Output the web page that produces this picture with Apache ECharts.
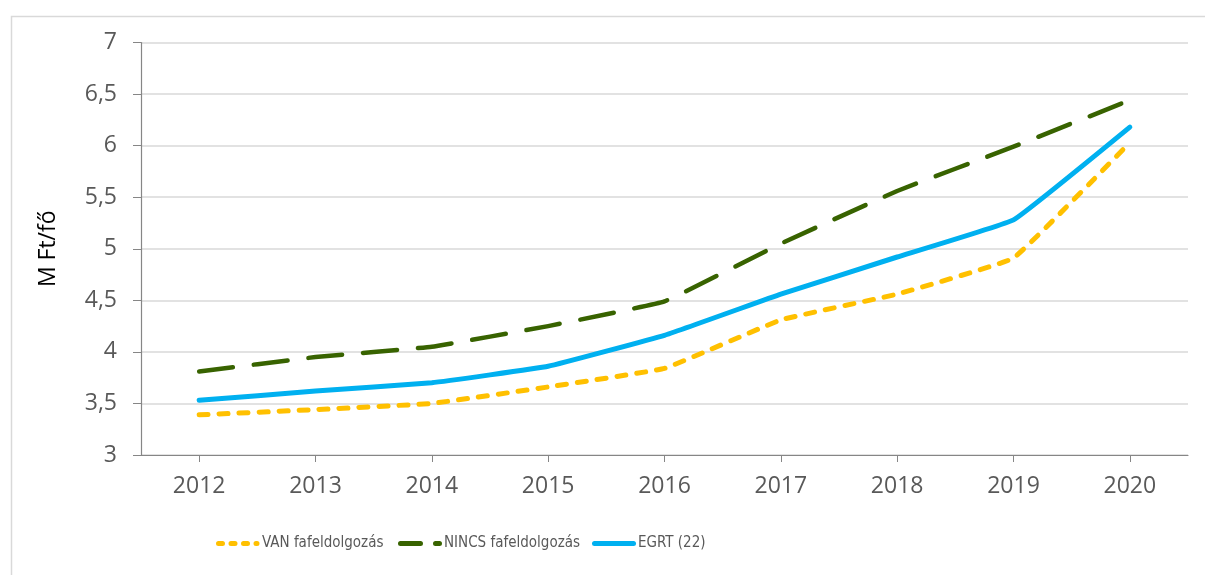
<!DOCTYPE html>
<html>
<head>
<meta charset="utf-8">
<script src="https://cdn.jsdelivr.net/npm/echarts@6/dist/echarts.min.js"></script>
<style>
  html, body { margin: 0; padding: 0; background: #fff; }
  #chart { width: 1205px; height: 575px; }
</style>
</head>
<body>
<div id="chart"></div>
<script>
// Years on the category axis
const years = ['2012', '2013', '2014', '2015', '2016', '2017', '2018', '2019', '2020'];

// Average value per person, million Ft
const vanFafeldolgozas = [3.39, 3.44, 3.50, 3.66, 3.84, 4.31, 4.56, 4.91, 6.03];
const nincsFafeldolgozas = [3.81, 3.95, 4.05, 4.25, 4.49, 5.05, 5.56, 5.99, 6.44];
const egrt = [3.53, 3.62, 3.70, 3.86, 4.16, 4.56, 4.92, 5.28, 6.18];

const seriesNames = ['VAN fafeldolgozás', 'NINCS fafeldolgozás', 'EGRT (22)'];

const FONT = '"Open Sans", "Liberation Sans", sans-serif';
const LEGEND_FONT = '"DejaVu Sans Condensed", "Open Sans", sans-serif';

// Legend swatch: a row of rounded dashes inside a 44 x 5 box
function dashIcon(segments) {
  const r = 2.5;
  const parts = segments.map(([a, b]) =>
    `M${a + r},0 H${b - r} A${r},${r} 0 0 1 ${b - r},5 H${a + r} A${r},${r} 0 0 1 ${a + r},0 Z`
  );
  return 'path://M0,0 M44,5 ' + parts.join(' ');
}

const legendIcons = [
  dashIcon([[0, 9], [12.5, 21.5], [25, 34], [37.5, 43.5]]),
  dashIcon([[0, 25], [35, 44]]),
  dashIcon([[0, 44]])
];
const legendLeft = [216, 398, 592];

function legendFor(i) {
  return {
    top: 536,
    left: legendLeft[i],
    padding: 0,
    itemWidth: 44,
    itemHeight: 5,
    itemGap: 0,
    itemStyle: { borderWidth: 0 },
    textStyle: { fontFamily: LEGEND_FONT, fontSize: 15, color: '#595959', padding: [0, 0, 0, -3] },
    data: [{ name: seriesNames[i], icon: legendIcons[i] }]
  };
}

const chart = echarts.init(document.getElementById('chart'), null, { renderer: 'canvas' });

chart.setOption({
  backgroundColor: '#ffffff',
  animation: false,
  graphic: [{
    type: 'rect',
    left: 9, top: 14,
    shape: { width: 1240, height: 620 },
    style: { fill: 'none', stroke: '#d9d9d9', lineWidth: 1.5 },
    silent: true
  }],
  grid: { left: 141, right: 17, top: 42.5, bottom: 120, containLabel: false },
  legend: [legendFor(0), legendFor(1), legendFor(2)],
  xAxis: {
    type: 'category',
    data: years,
    boundaryGap: true,
    axisLine: { show: true, lineStyle: { color: '#868686', width: 1.2 } },
    axisTick: { show: true, alignWithLabel: true, length: 7, lineStyle: { color: '#868686' } },
    axisLabel: { fontFamily: FONT, fontSize: 23, color: '#595959', margin: 20 }
  },
  yAxis: {
    type: 'value',
    min: 3,
    max: 7,
    interval: 0.5,
    name: 'M Ft/fő',
    nameLocation: 'middle',
    nameRotate: 90,
    nameGap: 81,
    nameTextStyle: { fontFamily: FONT, fontSize: 23, color: '#000000' },
    axisLine: { show: true, lineStyle: { color: '#868686', width: 1.2 } },
    axisTick: { show: true, length: 8, lineStyle: { color: '#868686' } },
    axisLabel: {
      fontFamily: FONT, fontSize: 23, color: '#595959', margin: 24,
      formatter: v => String(v).replace('.', ',')
    },
    splitLine: { show: true, lineStyle: { color: '#d9d9d9', width: 1.5 } }
  },
  series: [
    {
      name: seriesNames[0],
      type: 'line',
      data: vanFafeldolgozas,
      smooth: 0.08,
      showSymbol: false,
      symbol: 'none',
      itemStyle: { color: '#FFC000' },
      lineStyle: { color: '#FFC000', width: 5, type: [9, 11], cap: 'round', join: 'round' }
    },
    {
      name: seriesNames[1],
      type: 'line',
      data: nincsFafeldolgozas,
      smooth: 0.08,
      showSymbol: false,
      symbol: 'none',
      itemStyle: { color: '#386300' },
      lineStyle: { color: '#386300', width: 4.5, type: [34, 21], cap: 'round', join: 'round' }
    },
    {
      name: seriesNames[2],
      type: 'line',
      data: egrt,
      smooth: 0.08,
      showSymbol: false,
      symbol: 'none',
      itemStyle: { color: '#00B0F0' },
      lineStyle: { color: '#00B0F0', width: 5, cap: 'round', join: 'round' }
    }
  ]
});
</script>
</body>
</html>
